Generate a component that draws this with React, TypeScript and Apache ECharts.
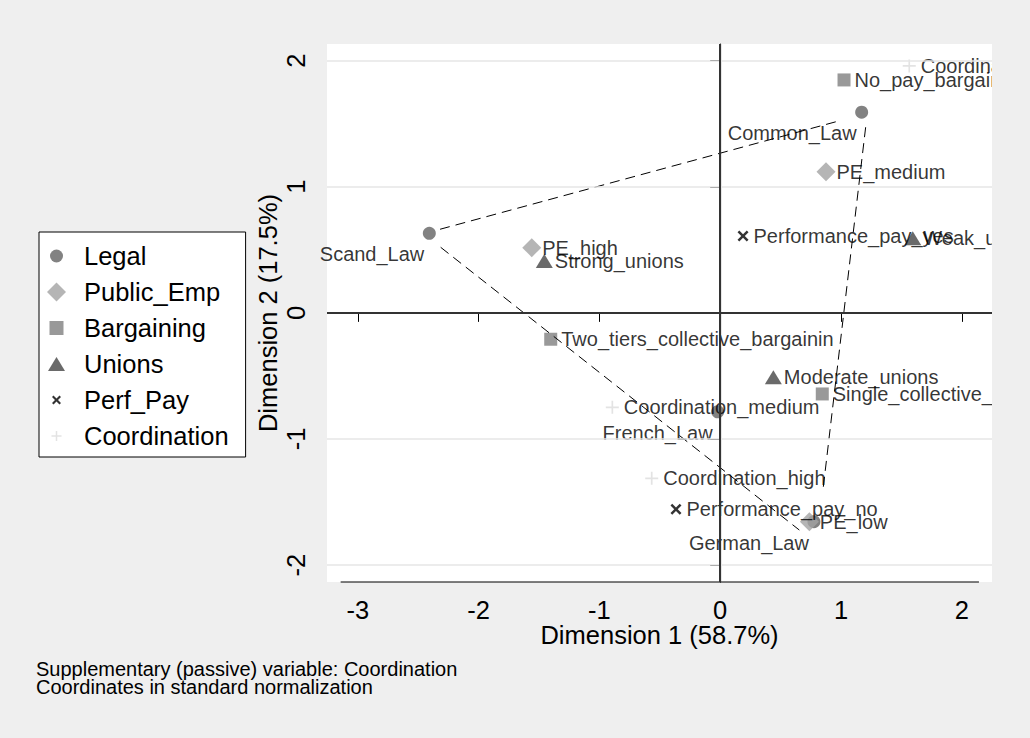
import React, { useEffect, useRef } from "react";
import * as echarts from "echarts";

const FONT = '"Liberation Sans", Arial, Helvetica, sans-serif';
const BG = "#efefef";

// ---- data (MCA coordinates, standard normalization) ----
const legalNames = ["Scand_Law", "Common_Law", "French_Law", "German_Law"];
const legalX = [-2.408, 1.171, -0.021, 0.776];
const legalY = [0.631, 1.591, -0.784, -1.656];

const publicNames = ["PE_high", "PE_medium", "PE_low"];
const publicX = [-1.56, 0.876, 0.738];
const publicY = [0.517, 1.12, -1.656];

const bargNames = ["No_pay_bargaining", "Two_tiers_collective_bargainin", "Single_collective_bargaining"];
const bargX = [1.025, -1.403, 0.845];
const bargY = [1.847, -0.209, -0.643];

const unionNames = ["Strong_unions", "Weak_unions", "Moderate_unions"];
const unionX = [-1.456, 1.594, 0.44];
const unionY = [0.412, 0.592, -0.511];

const perfNames = ["Performance_pay_yes", "Performance_pay_no"];
const perfX = [0.189, -0.366];
const perfY = [0.61, -1.557];

const coordNames = ["Coordination_low", "Coordination_medium", "Coordination_high"];
const coordX = [1.565, -0.893, -0.567];
const coordY = [1.958, -0.749, -1.312];

// dashed hull segments around the Legal categories
const hullA = [[-2.319, 0.663], [0.983, 1.522]];
const hullB = [[1.204, 1.472], [0.849, -1.418]];
const hullC = [[-2.314, 0.52], [0.655, -1.722]];

const xTicks = [-3, -2, -1, 0, 1, 2];
const yTicks = [-2, -1, 0, 1, 2];
const yGrid = [-2, -1, 1, 2];

const X_MIN = -3.255, X_MAX = 2.25;
const Y_MIN = -2.134, Y_MAX = 2.132;
const X_LINE = [-3.142, 2.142];

const legendNames = ["Legal", "Public_Emp", "Bargaining", "Unions", "Perf_Pay", "Coordination"];
const notes = [
  "Supplementary (passive) variable: Coordination",
  "Coordinates in standard normalization",
];

const CROSS = "path://M0,1.6L1.6,0L5,3.4L8.4,0L10,1.6L6.6,5L10,8.4L8.4,10L5,6.6L1.6,10L0,8.4L3.4,5Z";
const PLUS = "path://M4.35,0H5.65V4.35H10V5.65H5.65V10H4.35V5.65H0V4.35H4.35Z";

// legend icons in a 32x19 box, symbol drawn in the left 19x19 part
const legendIcons = [
  "path://M0,0M32,19M3,9.5A6.5,6.5,0,1,0,16,9.5A6.5,6.5,0,1,0,3,9.5Z",
  "path://M0,0M32,19M9.5,0L19,9.5L9.5,19L0,9.5Z",
  "path://M0,0M32,19M2.5,2.5H16.5V16.5H2.5Z",
  "path://M0,0M32,19M1,16.5L9.5,2.5L18,16.5Z",
  "path://M0,0M32,19M5,6.5L6.5,5L9.5,8L12.5,5L14,6.5L11,9.5L14,12.5L12.5,14L9.5,11L6.5,14L5,12.5L8,9.5Z",
  "path://M0,0M32,19M8.75,4.5H10.25V8.75H14.5V10.25H10.25V14.5H8.75V10.25H4.5V8.75H8.75Z",
];

function pts(names: string[], xs: number[], ys: number[]) {
  return names.map((n, i) => ({ name: n, value: [xs[i], ys[i]] }));
}

const labelRight = (distance: number) => ({
  show: true,
  formatter: "{b}",
  position: "right",
  distance,
  fontSize: 20,
  fontFamily: FONT,
  color: "#000",
});

export default function App() {
  const ref = useRef<HTMLDivElement>(null);
  useEffect(() => {
    if (!ref.current) return;
    const chart = echarts.init(ref.current, null, { renderer: "svg" });
    const hullStyle = { color: "#000", width: 1, type: [10, 6] as any };
    const option: any = {
      animation: false,
      backgroundColor: BG,
      textStyle: { fontFamily: FONT },
      grid: {
        left: 327,
        right: 38,
        top: 44,
        bottom: 156,
        show: true,
        backgroundColor: "#fff",
        borderWidth: 0,
      },
      legend: {
        orient: "vertical",
        left: 39,
        top: 232,
        data: legendNames.map((n, i) => ({ name: n, icon: legendIcons[i] })),
        itemWidth: 32,
        itemHeight: 19,
        itemGap: 0,
        itemTextGap: 6,
        padding: [6, 17, 3, 8],
        backgroundColor: "#fff",
        borderColor: "#000",
        borderWidth: 1,
        borderRadius: 0,
        textStyle: { fontSize: 25.5, fontFamily: FONT, color: "#000", lineHeight: 36 },
        selectedMode: false,
      },
      xAxis: {
        type: "value",
        min: X_MIN,
        max: X_MAX,
        axisLine: { show: false },
        axisTick: { show: true, customValues: xTicks, length: 9, lineStyle: { color: "#000", width: 1 } },
        axisLabel: { customValues: xTicks, fontSize: 25.5, fontFamily: FONT, color: "#000", margin: 15 },
        splitLine: { show: false },
        name: "Dimension 1 (58.7%)",
        nameLocation: "middle",
        nameGap: 40,
        nameMoveOverlap: false,
        nameTextStyle: { fontSize: 25.5, fontFamily: FONT, color: "#000" },
      },
      yAxis: {
        type: "value",
        min: Y_MIN,
        max: Y_MAX,
        axisLine: { show: true, lineStyle: { color: "#000", width: 1.2 } },
        axisTick: { show: true, customValues: yTicks, length: 10, lineStyle: { color: "#000", width: 1 } },
        axisLabel: { customValues: yTicks, rotate: 90, fontSize: 25.5, fontFamily: FONT, color: "#000", margin: 18 },
        splitLine: { show: false },
        name: "Dimension 2 (17.5%)",
        nameLocation: "middle",
        nameGap: 46,
        nameMoveOverlap: false,
        nameTextStyle: { fontSize: 25.5, fontFamily: FONT, color: "#000" },
      },
      graphic: [
        ...notes.map((t, i) => ({
          type: "text",
          x: 36,
          y: 669 + i * 18,
          style: { text: t, fontSize: 20, fontFamily: FONT, fill: "#000", verticalAlign: "middle" },
        })),
        {
          type: "rect",
          z: 100,
          shape: { x: 992, y: 0, width: 40, height: 738 },
          style: { fill: BG },
        },
      ],
      series: [
        {
          name: "gridlines",
          type: "line",
          data: [],
          silent: true,
          markLine: {
            silent: true,
            symbol: ["none", "none"],
            label: { show: false },
            data: [
              ...yGrid.map((v) => ({ yAxis: v, lineStyle: { color: "#e6e6e6", width: 1.5, type: "solid" } })),
              { yAxis: 0, lineStyle: { color: "#333", width: 2, type: "solid" } },
              { xAxis: 0, lineStyle: { color: "#333", width: 2, type: "solid" } },
            ],
          },
        },
        {
          name: "xaxisline",
          type: "line",
          data: [[X_LINE[0], Y_MIN], [X_LINE[1], Y_MIN]],
          clip: false,
          symbol: "none",
          silent: true,
          lineStyle: { color: "#000", width: 1.2 },
        },
        ...[hullA, hullB, hullC].map((h, i) => ({
          name: "hull" + i,
          type: "line",
          data: h,
          symbol: "none",
          silent: true,
          lineStyle: hullStyle,
        })),
        {
          name: "Legal",
          type: "scatter",
          symbol: "circle",
          symbolSize: 13,
          itemStyle: { color: "#636363" },
          data: pts(legalNames, legalX, legalY),
          label: {
            show: true,
            formatter: "{b}",
            position: "left",
            distance: 0,
            offset: [1.5, 21],
            fontSize: 20,
            fontFamily: FONT,
            color: "#000",
          },
        },
        {
          name: "Public_Emp",
          type: "scatter",
          symbol: "diamond",
          symbolSize: 19,
          itemStyle: { color: "#a3a3a3" },
          data: pts(publicNames, publicX, publicY),
          label: labelRight(1),
        },
        {
          name: "Bargaining",
          type: "scatter",
          symbol: "rect",
          symbolSize: 13,
          itemStyle: { color: "#808080" },
          data: pts(bargNames, bargX, bargY),
          label: labelRight(4),
        },
        {
          name: "Unions",
          type: "scatter",
          symbol: "triangle",
          symbolSize: [17, 14],
          itemStyle: { color: "#454545" },
          data: pts(unionNames, unionX, unionY),
          label: labelRight(2),
        },
        {
          name: "Perf_Pay",
          type: "scatter",
          symbol: CROSS,
          symbolSize: 11,
          itemStyle: { color: "#000" },
          data: pts(perfNames, perfX, perfY),
          label: labelRight(5),
        },
        {
          name: "Coordination",
          type: "scatter",
          symbol: PLUS,
          symbolSize: 13,
          itemStyle: { color: "#dcdcdc" },
          data: pts(coordNames, coordX, coordY),
          label: labelRight(5),
        },
      ],
    };
    chart.setOption(option);
    return () => chart.dispose();
  }, []);
  return (
    <div
      ref={ref}
      style={{ position: "fixed", left: 0, top: 0, width: 1030, height: 738 }}
    />
  );
}
